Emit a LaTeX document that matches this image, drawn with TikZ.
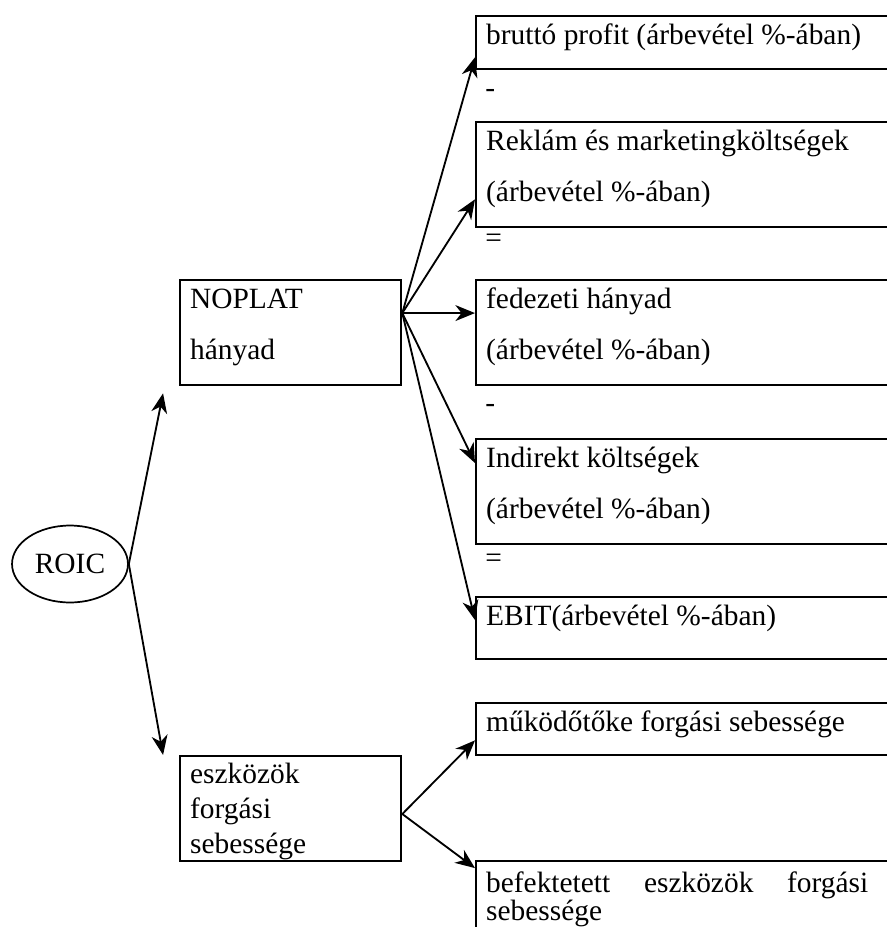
\documentclass[tikz,border=0pt]{standalone}
\usepackage{fontspec}
\setmainfont{Liberation Serif}
\usetikzlibrary{shapes.geometric, arrows.meta}

\newcommand{\cellbox}[4][11.4pt]{\parbox[t][#2][t]{#3}{\rule{0pt}{#1}#4}}

\begin{document}
\begin{tikzpicture}[x=0.408pt, y=-0.408pt,
    box/.style={draw, line width=0.95pt, anchor=north west, inner xsep=4.08pt, inner ysep=0pt},
    wide/.style={font=\fontsize{12pt}{20.8pt}\selectfont},
    tight/.style={font=\fontsize{12pt}{14.3pt}\selectfont},
    sign/.style={anchor=base west, inner sep=0pt, font=\fontsize{12pt}{14.3pt}\selectfont},
    arr/.style={-{Stealth[length=8pt, width=6.5pt, inset=2.5pt]}, line width=0.75pt}]
    \useasboundingbox (0,0) rectangle (887,927);
    % root
    \node[draw, ellipse, line width=0.7pt, minimum width=47.3pt, minimum height=31.4pt,
          inner sep=0pt, font=\fontsize{12pt}{14.3pt}\selectfont] (roic) at (70,564) {ROIC};
    % middle level
    \node[box, wide] (noplat) at (179,279) {\cellbox{42.8pt}{82pt}{NOPLAT\\hányad}};
    \node[box, tight] (eszk) at (179,755) {\cellbox[11pt]{42.8pt}{82pt}{eszközök\\forgási\\sebessége}};
    % right column
    \node[box, wide] (brutto) at (475,15) {\cellbox{21.6pt}{165.2pt}{bruttó profit (árbevétel \%-ában)}};
    \node[sign] (minus1) at (485,97) {-};
    \node[box, wide] (reklam) at (475,121) {\cellbox{42.8pt}{165.2pt}{Reklám és marketingköltségek\\(árbevétel \%-ában)}};
    \node[sign] (equal1) at (485,247) {=};
    \node[box, wide] (fedezeti) at (475,279) {\cellbox{42.8pt}{165.2pt}{fedezeti hányad\\(árbevétel \%-ában)}};
    \node[sign] (minus2) at (485,412) {-};
    \node[box, wide] (indirekt) at (475,438) {\cellbox{42.8pt}{165.2pt}{Indirekt költségek\\(árbevétel \%-ában)}};
    \node[sign] (equal2) at (485,567) {=};
    \node[box, wide] (ebit) at (475,596) {\cellbox{25.3pt}{165.2pt}{EBIT(árbevétel \%-ában)}};
    \node[box, tight] (mukodo) at (475,702) {\cellbox{21.2pt}{165.2pt}{működőtőke forgási sebessége}};
    \node[box, font=\fontsize{12pt}{11.4pt}\selectfont] (befekt) at (475,860)
        {\cellbox[12.8pt]{57pt}{165.2pt}{\makebox[155.9pt][s]{befektetett eszközök forgási}\\sebessége}};
    % connectors
    \draw[arr] (roic.east) -- ([shift={(-6.5pt,-2.9pt)}]noplat.south west);
    \draw[arr] (roic.east) -- ([xshift=-6.5pt]eszk.north west);
    \coordinate (nfan) at ([yshift=-13.9pt]noplat.north east);
    \draw[arr] (nfan) -- ([yshift=5.3pt]brutto.south west);
    \draw[arr] (nfan) -- ([yshift=11.8pt]reklam.south west);
    \draw[arr] (nfan) -- ([yshift=-13.9pt]fedezeti.north west);
    \draw[arr] (nfan) -- ([yshift=-10.2pt]indirekt.north west);
    \draw[arr] (nfan) -- ([yshift=-9.8pt]ebit.north west);
    \coordinate (efan) at ([yshift=-2.2pt]eszk.east);
    \draw[arr] (efan) -- ([yshift=6.5pt]mukodo.south west);
    \draw[arr] (efan) -- ([yshift=-3.3pt]befekt.north west);
\end{tikzpicture}
\end{document}
